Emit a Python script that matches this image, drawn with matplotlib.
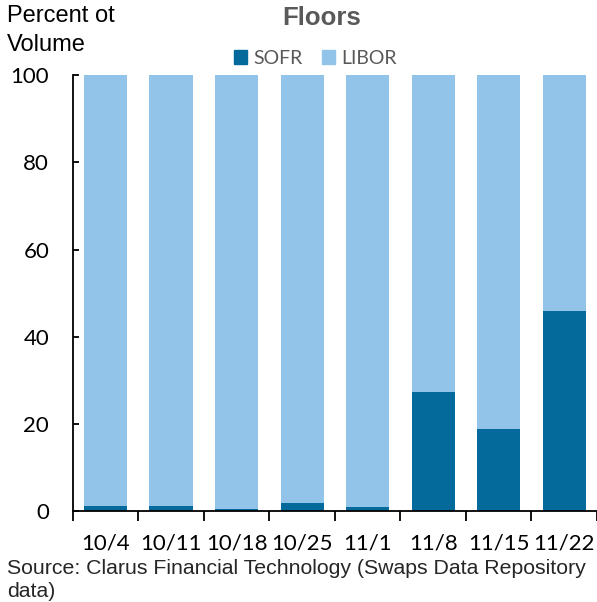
import numpy as np
import matplotlib
matplotlib.use("Agg")
from matplotlib import pyplot as plt
from matplotlib.patches import Patch

weeks = ["10/4", "10/11", "10/18", "10/25", "11/1", "11/8", "11/15", "11/22"]
sofr = [1.2, 1.2, 0.5, 1.8, 0.9, 27.4, 18.8, 46.0]
libor = [100 - v for v in sofr]

SOFR_COL = "#046a9c"
LIBOR_COL = "#92c4ea"

fig = plt.figure(figsize=(5.97, 6.02), dpi=100)
ax = fig.add_axes([0.122, 0.151, 0.878, 0.724])

x = np.arange(len(weeks))
ax.bar(x, sofr, width=0.66, color=SOFR_COL)
ax.bar(x, libor, bottom=sofr, width=0.66, color=LIBOR_COL)

ax.set_xlim(-0.5, len(weeks) - 0.5)
ax.set_ylim(0, 100)
ax.set_yticks([0, 20, 40, 60, 80, 100])
ax.set_xticks(x)
ax.set_xticklabels(weeks)
ax.set_xticks(np.arange(len(weeks) + 1) - 0.5, minor=True)

for s in ["top", "right"]:
    ax.spines[s].set_visible(False)
for s in ["left", "bottom"]:
    ax.spines[s].set_linewidth(1.3)
    ax.spines[s].set_color("black")

ax.tick_params(axis="x", which="major", length=0, pad=16, labelsize=16)
ax.tick_params(axis="x", which="minor", length=7, width=1.3, direction="out")
ax.tick_params(axis="y", length=4, width=1.3, direction="in", labelsize=16, pad=17)
for lab in ax.get_xticklabels() + ax.get_yticklabels():
    lab.set_family("Lato")

fig.text(0.012, 0.992, "Percent ot\nVolume", ha="left", va="top", fontsize=17,
         family="Liberation Sans", linespacing=1.42)
fig.text(0.538, 0.99, "Floors", ha="center", va="top", fontsize=18.5, fontweight="bold",
         color="#595959", family="Liberation Sans")

handles = [Patch(color=SOFR_COL, label="SOFR"), Patch(color=LIBOR_COL, label="LIBOR")]
leg = fig.legend(handles=handles, loc="center", bbox_to_anchor=(0.528, 0.903), ncol=2,
                 frameon=False, handlelength=0.7, handleheight=0.7,
                 handletextpad=0.3, columnspacing=1.0, prop={"family": "Lato", "size": 14})
for t in leg.get_texts():
    t.set_color("#595959")

fig.text(0.012, 0.072, "Source: Clarus Financial Technology (Swaps Data Repository\ndata)",
         ha="left", va="top", fontsize=15.3, family="Liberation Sans", color="#262626",
         linespacing=1.32)

fig.savefig("out.png", dpi=100)
